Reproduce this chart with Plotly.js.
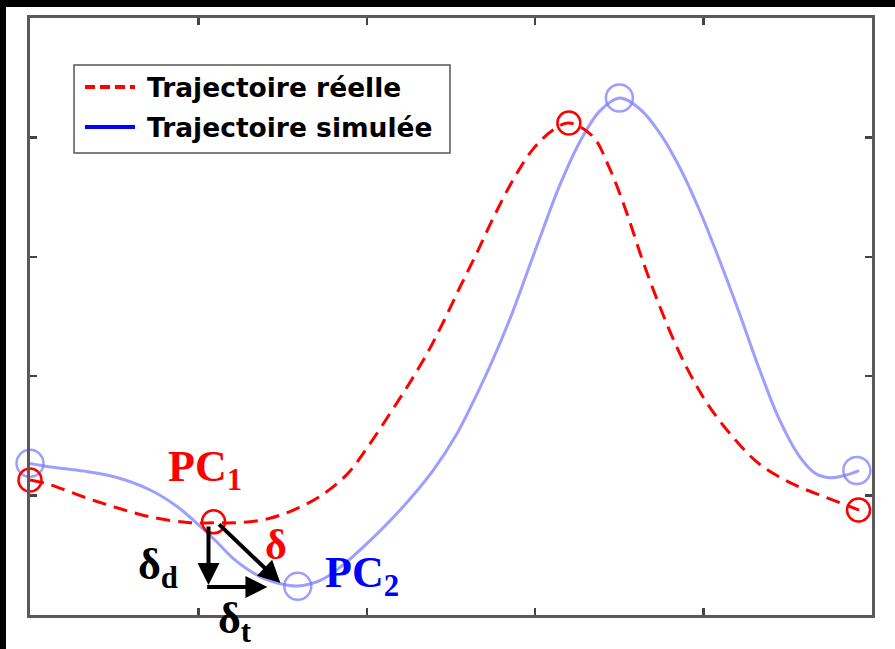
<!DOCTYPE html>
<html>
<head>
<meta charset="utf-8">
<script src="https://cdn.plot.ly/plotly-3.0.1.min.js"></script>
<style>
  html, body { margin: 0; padding: 0; background: #000; width: 895px; height: 649px; overflow: hidden; }
  #chart { position: absolute; left: 6px; top: 7px; width: 889px; height: 642px; }
</style>
</head>
<body>
<div id="chart"></div>
<script>
// Real trajectory (red dashed)
const redX = [0, 0.124, 0.320, 0.521, 0.717, 0.936, 1.090, 1.250, 1.410, 1.564, 1.724, 1.884, 2.002, 2.139, 2.257, 2.358, 2.453, 2.553, 2.654, 2.749, 2.867, 2.986, 3.104, 3.199, 3.341, 3.442, 3.543, 3.637, 3.738, 3.839, 3.934, 4.034, 4.171, 4.331, 4.526, 4.728, 4.923];
const redY = [1.131, 1.089, 0.988, 0.896, 0.821, 0.775, 0.772, 0.775, 0.805, 0.879, 0.995, 1.180, 1.400, 1.690, 1.950, 2.190, 2.450, 2.745, 3.035, 3.320, 3.640, 3.900, 4.060, 4.121, 4.010, 3.740, 3.370, 2.973, 2.590, 2.250, 1.980, 1.745, 1.495, 1.265, 1.100, 0.985, 0.879];
// Simulated trajectory (blue)
const blueX = [0, 0.124, 0.320, 0.521, 0.717, 0.877, 1.013, 1.114, 1.209, 1.368, 1.487, 1.588, 1.724, 1.842, 2.002, 2.198, 2.393, 2.536, 2.654, 2.749, 2.850, 2.950, 3.045, 3.146, 3.264, 3.383, 3.501, 3.620, 3.738, 3.857, 3.975, 4.094, 4.212, 4.331, 4.449, 4.568, 4.660, 4.750, 4.840, 4.923];
const blueY = [1.270, 1.240, 1.205, 1.150, 1.045, 0.905, 0.740, 0.605, 0.470, 0.320, 0.262, 0.243, 0.290, 0.400, 0.600, 0.880, 1.210, 1.520, 1.850, 2.140, 2.480, 2.860, 3.225, 3.600, 3.960, 4.220, 4.330, 4.240, 4.040, 3.752, 3.392, 2.973, 2.529, 2.060, 1.640, 1.330, 1.190, 1.150, 1.170, 1.210];
// Key points (circles)
const redPtsX = [0, 1.09, 3.20, 4.92];
const redPtsY = [1.13, 0.78, 4.12, 0.88];
const bluePtsX = [0, 1.59, 3.50, 4.91];
const bluePtsY = [1.27, 0.24, 4.33, 1.21];
// Tick positions (no labels)
const tickVals = [1, 2, 3, 4];
// Legend labels
const legendLabels = ['Trajectoire réelle', 'Trajectoire simulée'];
// Text labels (x in data units; y in data units except the last, given in paper units)
const labelText = ['PC<sub>1</sub>', 'PC<sub>2</sub>', 'δ', 'δ<sub>d</sub>', 'δ<sub>t</sub>'];
const labelX = [1.04, 1.97, 1.46, 0.758, 1.22];
const labelY = [1.22, 0.33, 0.59, 0.394, -0.0117];
const labelYref = ['y', 'y', 'y', 'y', 'paper'];
const labelColor = ['#ff0000', '#0000ff', '#ff0000', '#000000', '#000000'];
const labelSize = [44, 44, 42, 44, 44];
// Arrows: tail -> head
const arrowTailX = [1.060, 1.043, 1.114];
const arrowTailY = [0.754, 0.235, 0.771];
const arrowHeadX = [1.060, 1.410, 1.487];
const arrowHeadY = [0.251, 0.235, 0.268];

const blueLight = 'rgba(120,120,255,0.72)';

const traces = [
  { x: blueX, y: blueY, mode: 'lines', line: { color: blueLight, width: 3, shape: 'spline', smoothing: 1 }, showlegend: false, hoverinfo: 'skip' },
  { x: redX, y: redY, mode: 'lines', line: { color: '#ff0000', width: 3, dash: '14px,8px', shape: 'spline', smoothing: 1 }, showlegend: false, hoverinfo: 'skip' },
  { x: bluePtsX, y: bluePtsY, mode: 'markers', marker: { symbol: 'circle-open', size: 27, color: blueLight, line: { width: 2.5, color: blueLight } }, cliponaxis: false, showlegend: false },
  { x: redPtsX, y: redPtsY, mode: 'markers', marker: { symbol: 'circle-open', size: 23, color: '#ff0000', line: { width: 2.5, color: '#ff0000' } }, cliponaxis: false, showlegend: false }
];

// Legend geometry (paper coords)
const lgX0 = 0.0523, lgX1 = 0.4988, lgY0 = 0.7739, lgY1 = 0.9213;
const rowY = [0.8844, 0.8174];
const sampleX0 = 0.0653, sampleX1 = 0.1247, textX = 0.1366;

const shapes = [
  { type: 'rect', xref: 'paper', yref: 'paper', x0: lgX0, x1: lgX1, y0: lgY0, y1: lgY1, fillcolor: '#ffffff', line: { color: '#555555', width: 1.5 } },
  { type: 'line', xref: 'paper', yref: 'paper', x0: sampleX0, x1: sampleX1, y0: rowY[0], y1: rowY[0], line: { color: '#ff0000', width: 4, dash: '10px,5px' } },
  { type: 'line', xref: 'paper', yref: 'paper', x0: sampleX0, x1: sampleX1, y0: rowY[1], y1: rowY[1], line: { color: '#0000ff', width: 4 } }
];

const annotations = [];
legendLabels.forEach((t, i) => {
  annotations.push({ xref: 'paper', yref: 'paper', x: textX, y: rowY[i], xanchor: 'left', yanchor: 'middle', showarrow: false, text: t,
    font: { family: 'DejaVu Sans', size: 26.5, color: '#000', weight: 'bold' } });
});
labelText.forEach((t, i) => {
  annotations.push({ xref: 'x', yref: labelYref[i], x: labelX[i], y: labelY[i], xanchor: 'center', yanchor: 'middle', showarrow: false, text: t,
    font: { family: 'Liberation Serif', size: labelSize[i], color: labelColor[i], weight: 'bold' } });
});
arrowHeadX.forEach((hx, i) => {
  annotations.push({ xref: 'x', yref: 'y', axref: 'x', ayref: 'y', x: hx, y: arrowHeadY[i], ax: arrowTailX[i], ay: arrowTailY[i],
    text: '', showarrow: true, arrowhead: 2, arrowsize: 1.1, arrowwidth: 4, arrowcolor: '#000', standoff: 0, startstandoff: 0 });
});

const axisCommon = {
  range: [0, 5], showgrid: false, zeroline: false, showline: true, linecolor: '#5a5a5a', linewidth: 3,
  mirror: 'ticks', ticks: 'inside', ticklen: 7, tickwidth: 2.5, tickcolor: '#444444', tickvals: tickVals,
  showticklabels: false, fixedrange: true
};

const layout = {
  width: 889, height: 642,
  margin: { l: 24, r: 23, t: 11, b: 34 },
  paper_bgcolor: '#ffffff', plot_bgcolor: '#ffffff',
  xaxis: Object.assign({}, axisCommon),
  yaxis: Object.assign({}, axisCommon),
  shapes: shapes,
  annotations: annotations,
  showlegend: false
};

Plotly.newPlot('chart', traces, layout, { displayModeBar: false, staticPlot: true });
</script>
</body>
</html>
